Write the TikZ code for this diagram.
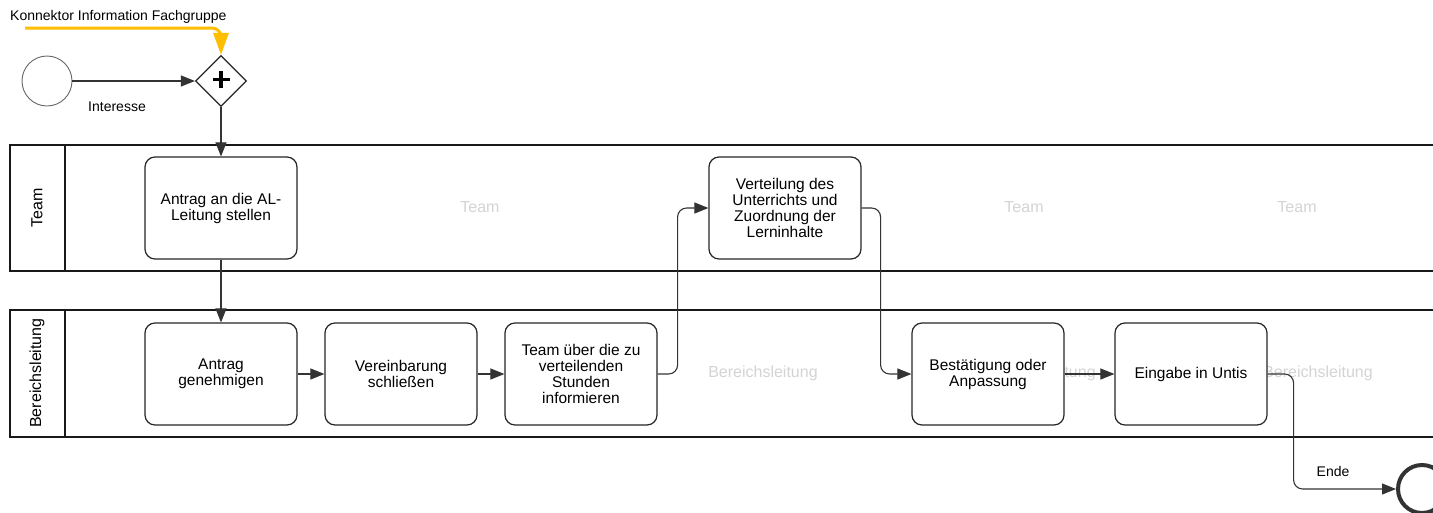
\documentclass[tikz,border=0pt]{standalone}
\usepackage{fontspec}
\setmainfont{Liberation Sans}
\usetikzlibrary{arrows.meta,shapes.geometric}
\definecolor{konn}{RGB}{255,190,0}
\begin{document}
\begin{tikzpicture}[x=1pt,y=-1pt,
  task/.style={draw=black!85,line width=1.2pt,rounded corners=10pt,fill=white,
    minimum width=152pt,minimum height=102pt,align=center,inner sep=0pt,
    font=\fontsize{15.5}{16}\selectfont},
  flow/.style={draw=black!80,line width=1.1pt,rounded corners=9pt,
    -{Triangle[length=14pt,width=11pt]}},
  lane/.style={draw=black!90,line width=2pt},
  wm/.style={text=black!17,font=\fontsize{16}{16}\selectfont,inner sep=0pt},
  lanelbl/.style={rotate=90,font=\fontsize{16}{16}\selectfont,inner sep=0pt},
  lbl/.style={font=\fontsize{14}{14}\selectfont,inner sep=0pt}]
\clip (0,0) rectangle (1433,512);
\fill[white] (0,0) rectangle (1433,512);

% lanes
\draw[lane] (10,145) rectangle (1450,271);
\draw[lane] (65,145) -- (65,271);
\draw[lane] (10,310) rectangle (1450,437);
\draw[lane] (65,310) -- (65,437);
\node[lanelbl] (teamlbl) at (37,208) {Team};
\node[lanelbl] (bllbl) at (37,373) {Bereichsleitung};

% watermark lane names
\node[wm] (wm1) at (480,207) {Team};
\node[wm] (wm2) at (1024,207) {Team};
\node[wm] (wm3) at (1297,207) {Team};
\node[wm] (wm4) at (763,373) {Bereichsleitung};
\node[wm] (wm5) at (1041,373) {Bereichsleitung};
\node[wm] (wm6) at (1318,373) {Bereichsleitung};

% events and gateway
\node[circle,draw=black!60,line width=0.9pt,minimum size=50pt,inner sep=0pt] (start) at (47,81) {};
\node[diamond,draw=black!85,line width=1.2pt,minimum width=51pt,minimum height=51pt,inner sep=0pt,fill=white] (gw) at (221,81) {};
\draw[line width=3.5pt] ([xshift=-8.5pt,yshift=1.5pt]gw.center) -- ([xshift=8.5pt,yshift=1.5pt]gw.center);
\draw[line width=3.5pt] ([yshift=-7pt]gw.center) -- ([yshift=10pt]gw.center);
\node[circle,draw=black!80,line width=4pt,minimum size=48pt,inner sep=0pt] (end) at (1422,489) {};

% tasks
\node[task] (t1) at (221,208) {Antrag an die AL-\\Leitung stellen};
\node[task] (t2) at (785,208) {Verteilung des\\Unterrichts und\\Zuordnung der\\Lerninhalte};
\node[task] (b1) at (221,374) {Antrag\\genehmigen};
\node[task] (b2) at (401,374) {Vereinbarung\\schließen};
\node[task] (b3) at (581,374) {Team über die zu\\verteilenden\\Stunden\\informieren};
\node[task] (b4) at (988,374) {Bestätigung oder\\Anpassung};
\node[task] (b5) at (1191,374) {Eingabe in Untis};

% connector
\coordinate (ks) at (25,28);
\draw[konn,line width=3pt,rounded corners=9pt,-{Triangle[length=22pt,width=15pt]}] (ks) -| (gw.north);
\node[lbl,anchor=west] (klbl) at (10,17) {Konnektor Information Fachgruppe};

% flows
\draw[flow] (start) -- (gw);
\node[lbl] (ilbl) at (117,107) {Interesse};
\draw[flow] (gw) -- (t1);
\draw[flow] (t1) -- (b1);
\draw[flow] (b1) -- (b2);
\draw[flow] (b2) -- (b3);
\draw[flow] (b3.east) -- ++(20,0) |- (t2.west);
\draw[flow] (t2.east) -- ++(19,0) |- (b4.west);
\draw[flow] (b4) -- (b5);
\draw[flow] (b5.east) -- ++(26,0) |- (end.west);
\node[lbl] (elbl) at (1333,471) {Ende};
\end{tikzpicture}
\end{document}
